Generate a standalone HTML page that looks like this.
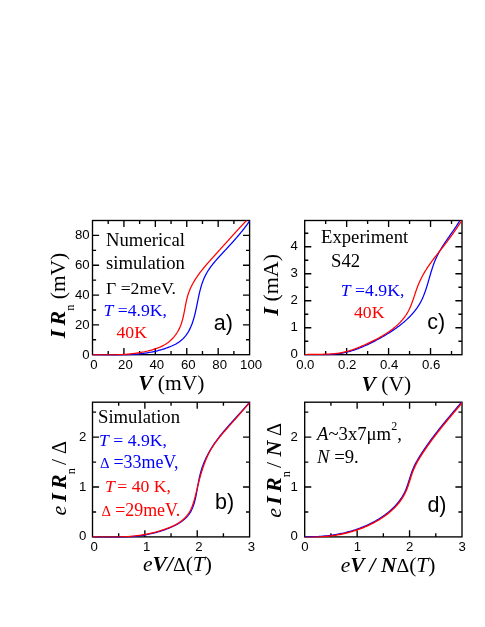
<!DOCTYPE html>
<html><head><meta charset="utf-8"><title>Figure</title>
<style>
html,body{margin:0;padding:0;background:#fff;overflow:hidden;}
svg{display:block;will-change:transform;}
.sans{font-family:"Liberation Sans",sans-serif;}
.serif{font-family:"Liberation Serif",serif;}
</style></head><body>
<svg width="485" height="627" viewBox="0 0 485 627">
<rect width="485" height="627" fill="#fff"/>
<rect x="92.5" y="220.5" width="157.1" height="134.2" fill="none" stroke="#000" stroke-width="1.35"/>
<path d="M123.92,354.7 v-6.6 M123.92,220.5 v6.6 M155.34,354.7 v-6.6 M155.34,220.5 v6.6 M186.76,354.7 v-6.6 M186.76,220.5 v6.6 M218.18,354.7 v-6.6 M218.18,220.5 v6.6 M108.21,354.7 v-3.6 M108.21,220.5 v3.6 M139.63,354.7 v-3.6 M139.63,220.5 v3.6 M171.05,354.7 v-3.6 M171.05,220.5 v3.6 M202.47,354.7 v-3.6 M202.47,220.5 v3.6 M233.89,354.7 v-3.6 M233.89,220.5 v3.6 M92.5,324.88 h6.6 M249.6,324.88 h-6.6 M92.5,295.06 h6.6 M249.6,295.06 h-6.6 M92.5,265.23 h6.6 M249.6,265.23 h-6.6 M92.5,235.41 h6.6 M249.6,235.41 h-6.6 M92.5,339.79 h3.6 M249.6,339.79 h-3.6 M92.5,309.97 h3.6 M249.6,309.97 h-3.6 M92.5,280.14 h3.6 M249.6,280.14 h-3.6 M92.5,250.32 h3.6 M249.6,250.32 h-3.6 " stroke="#000" stroke-width="1.35" fill="none"/>
<rect x="304.7" y="220.5" width="157.3" height="134.2" fill="none" stroke="#000" stroke-width="1.35"/>
<path d="M346.65,354.7 v-6.6 M346.65,220.5 v6.6 M388.59,354.7 v-6.6 M388.59,220.5 v6.6 M430.54,354.7 v-6.6 M430.54,220.5 v6.6 M325.67,354.7 v-3.6 M325.67,220.5 v3.6 M367.62,354.7 v-3.6 M367.62,220.5 v3.6 M409.57,354.7 v-3.6 M409.57,220.5 v3.6 M451.51,354.7 v-3.6 M451.51,220.5 v3.6 M304.7,327.70 h6.6 M462.0,327.70 h-6.6 M304.7,300.70 h6.6 M462.0,300.70 h-6.6 M304.7,273.70 h6.6 M462.0,273.70 h-6.6 M304.7,246.70 h6.6 M462.0,246.70 h-6.6 M304.7,341.20 h3.6 M462.0,341.20 h-3.6 M304.7,314.20 h3.6 M462.0,314.20 h-3.6 M304.7,287.20 h3.6 M462.0,287.20 h-3.6 M304.7,260.20 h3.6 M462.0,260.20 h-3.6 M304.7,233.20 h3.6 M462.0,233.20 h-3.6 " stroke="#000" stroke-width="1.35" fill="none"/>
<rect x="92.5" y="402.2" width="157.1" height="134.7" fill="none" stroke="#000" stroke-width="1.35"/>
<path d="M144.87,536.9 v-6.6 M144.87,402.2 v6.6 M197.23,536.9 v-6.6 M197.23,402.2 v6.6 M118.68,536.9 v-3.6 M118.68,402.2 v3.6 M171.05,536.9 v-3.6 M171.05,402.2 v3.6 M223.42,536.9 v-3.6 M223.42,402.2 v3.6 M92.5,487.01 h6.6 M249.6,487.01 h-6.6 M92.5,437.12 h6.6 M249.6,437.12 h-6.6 M92.5,511.96 h3.6 M249.6,511.96 h-3.6 M92.5,462.07 h3.6 M249.6,462.07 h-3.6 M92.5,412.18 h3.6 M249.6,412.18 h-3.6 " stroke="#000" stroke-width="1.35" fill="none"/>
<rect x="304.7" y="402.2" width="157.3" height="134.7" fill="none" stroke="#000" stroke-width="1.35"/>
<path d="M357.13,536.9 v-6.6 M357.13,402.2 v6.6 M409.57,536.9 v-6.6 M409.57,402.2 v6.6 M330.92,536.9 v-3.6 M330.92,402.2 v3.6 M383.35,536.9 v-3.6 M383.35,402.2 v3.6 M435.78,536.9 v-3.6 M435.78,402.2 v3.6 M304.7,487.01 h6.6 M462.0,487.01 h-6.6 M304.7,437.12 h6.6 M462.0,437.12 h-6.6 M304.7,511.96 h3.6 M462.0,511.96 h-3.6 M304.7,462.07 h3.6 M462.0,462.07 h-3.6 M304.7,412.18 h3.6 M462.0,412.18 h-3.6 " stroke="#000" stroke-width="1.35" fill="none"/>
<clipPath id="ca"><rect x="92.5" y="220.2" width="157.1" height="135.2"/></clipPath><g clip-path="url(#ca)"><path d="M92.49,354.78 L93.69,354.81 L94.88,354.84 L96.07,354.87 L97.26,354.89 L98.44,354.92 L99.62,354.95 L100.80,354.97 L101.98,354.99 L103.15,355.02 L104.32,355.04 L105.49,355.05 L106.66,355.07 L107.83,355.08 L108.99,355.09 L110.15,355.10 L111.32,355.11 L112.47,355.11 L113.63,355.11 L114.79,355.11 L115.94,355.10 L117.10,355.09 L118.25,355.08 L119.40,355.06 L120.55,355.03 L121.70,355.01 L122.85,354.97 L124.00,354.94 L125.15,354.89 L126.30,354.85 L127.45,354.79 L128.59,354.73 L129.74,354.67 L130.89,354.60 L132.04,354.52 L133.18,354.44 L134.33,354.35 L135.48,354.25 L136.63,354.14 L137.78,354.03 L138.93,353.91 L140.08,353.79 L141.23,353.65 L142.38,353.51 L143.54,353.36 L144.69,353.20 L145.85,353.03 L147.00,352.86 L148.16,352.67 L149.32,352.47 L150.47,352.26 L151.63,352.05 L152.79,351.82 L153.94,351.57 L155.10,351.32 L156.25,351.05 L157.40,350.78 L158.56,350.48 L159.71,350.18 L160.86,349.86 L162.01,349.52 L163.15,349.17 L164.30,348.81 L165.44,348.43 L166.58,348.03 L167.72,347.62 L168.85,347.19 L169.98,346.74 L171.11,346.27 L172.22,345.79 L173.32,345.28 L174.40,344.75 L175.47,344.20 L176.51,343.62 L177.52,343.02 L178.50,342.39 L179.45,341.73 L180.36,341.05 L181.23,340.33 L182.08,339.59 L182.88,338.83 L183.66,338.04 L184.41,337.22 L185.12,336.38 L185.81,335.52 L186.47,334.63 L187.10,333.73 L187.70,332.80 L188.28,331.85 L188.83,330.89 L189.36,329.90 L189.87,328.90 L190.35,327.89 L190.82,326.85 L191.26,325.80 L191.68,324.74 L192.09,323.67 L192.48,322.58 L192.85,321.48 L193.21,320.37 L193.55,319.25 L193.88,318.12 L194.20,316.98 L194.50,315.83 L194.80,314.68 L195.08,313.52 L195.36,312.35 L195.62,311.18 L195.88,310.01 L196.14,308.83 L196.39,307.65 L196.63,306.47 L196.87,305.29 L197.11,304.11 L197.35,302.93 L197.58,301.75 L197.82,300.57 L198.06,299.40 L198.30,298.23 L198.54,297.06 L198.79,295.91 L199.04,294.75 L199.30,293.61 L199.57,292.47 L199.84,291.33 L200.12,290.21 L200.41,289.09 L200.72,287.97 L201.03,286.87 L201.36,285.77 L201.70,284.68 L202.05,283.59 L202.42,282.52 L202.80,281.45 L203.21,280.39 L203.63,279.34 L204.07,278.30 L204.53,277.26 L205.01,276.23 L205.51,275.22 L206.03,274.21 L206.58,273.21 L207.15,272.22 L207.75,271.24 L208.36,270.26 L209.00,269.30 L209.66,268.34 L210.33,267.39 L211.03,266.45 L211.73,265.52 L212.46,264.59 L213.19,263.67 L213.94,262.76 L214.70,261.85 L215.47,260.94 L216.25,260.05 L217.03,259.15 L217.82,258.27 L218.62,257.38 L219.42,256.50 L220.22,255.63 L221.03,254.75 L221.83,253.88 L222.63,253.02 L223.43,252.15 L224.23,251.29 L225.03,250.43 L225.82,249.57 L226.62,248.72 L227.41,247.86 L228.20,247.00 L228.99,246.15 L229.77,245.29 L230.55,244.44 L231.33,243.58 L232.11,242.72 L232.88,241.86 L233.65,241.00 L234.42,240.14 L235.19,239.28 L235.95,238.41 L236.70,237.54 L237.46,236.66 L238.21,235.78 L238.96,234.90 L239.70,234.02 L240.44,233.13 L241.17,232.23 L241.90,231.33 L242.63,230.42 L243.35,229.51 L244.07,228.59 L244.78,227.66 L245.49,226.73 L246.19,225.79 L246.89,224.84 L247.58,223.89 L248.27,222.92 L248.95,221.95 L249.63,220.97" stroke="#0000ff" stroke-width="1.25" fill="none" stroke-linejoin="round"/>
<path d="M92.50,354.79 L93.67,354.82 L94.84,354.84 L96.00,354.87 L97.15,354.89 L98.31,354.91 L99.46,354.93 L100.60,354.94 L101.74,354.95 L102.88,354.96 L104.02,354.97 L105.15,354.98 L106.28,354.98 L107.40,354.98 L108.53,354.97 L109.65,354.96 L110.77,354.95 L111.89,354.93 L113.01,354.91 L114.13,354.88 L115.25,354.85 L116.36,354.81 L117.48,354.77 L118.59,354.73 L119.71,354.68 L120.83,354.62 L121.95,354.56 L123.06,354.49 L124.18,354.41 L125.30,354.33 L126.43,354.25 L127.55,354.15 L128.68,354.05 L129.80,353.94 L130.94,353.83 L132.07,353.71 L133.20,353.58 L134.34,353.44 L135.48,353.29 L136.62,353.14 L137.75,352.97 L138.89,352.79 L140.03,352.61 L141.17,352.41 L142.30,352.21 L143.44,351.99 L144.57,351.76 L145.70,351.51 L146.83,351.26 L147.95,350.99 L149.07,350.71 L150.19,350.41 L151.30,350.10 L152.41,349.78 L153.51,349.44 L154.61,349.09 L155.70,348.72 L156.79,348.33 L157.87,347.93 L158.94,347.50 L160.00,347.06 L161.04,346.60 L162.07,346.11 L163.08,345.60 L164.08,345.07 L165.06,344.51 L166.01,343.92 L166.94,343.30 L167.85,342.65 L168.73,341.98 L169.59,341.28 L170.42,340.55 L171.24,339.80 L172.02,339.03 L172.79,338.23 L173.52,337.40 L174.24,336.56 L174.93,335.69 L175.59,334.81 L176.23,333.90 L176.85,332.98 L177.43,332.03 L178.00,331.07 L178.54,330.10 L179.05,329.10 L179.54,328.10 L180.00,327.07 L180.44,326.04 L180.85,324.99 L181.23,323.93 L181.59,322.86 L181.93,321.78 L182.25,320.69 L182.55,319.59 L182.84,318.48 L183.11,317.37 L183.37,316.25 L183.61,315.12 L183.85,313.99 L184.08,312.85 L184.30,311.72 L184.51,310.58 L184.73,309.44 L184.94,308.30 L185.15,307.15 L185.36,306.01 L185.58,304.87 L185.80,303.74 L186.03,302.61 L186.27,301.48 L186.52,300.35 L186.78,299.24 L187.06,298.13 L187.35,297.02 L187.66,295.93 L187.98,294.84 L188.33,293.77 L188.70,292.70 L189.09,291.64 L189.49,290.60 L189.92,289.56 L190.37,288.53 L190.83,287.51 L191.31,286.50 L191.81,285.50 L192.33,284.50 L192.86,283.52 L193.40,282.54 L193.97,281.57 L194.54,280.61 L195.13,279.65 L195.74,278.70 L196.35,277.76 L196.98,276.82 L197.62,275.89 L198.27,274.97 L198.94,274.05 L199.61,273.14 L200.29,272.23 L200.99,271.33 L201.69,270.43 L202.40,269.54 L203.11,268.65 L203.84,267.77 L204.57,266.89 L205.30,266.01 L206.05,265.14 L206.79,264.27 L207.54,263.41 L208.30,262.54 L209.06,261.68 L209.82,260.83 L210.58,259.97 L211.35,259.12 L212.12,258.27 L212.89,257.42 L213.65,256.57 L214.42,255.72 L215.19,254.87 L215.96,254.03 L216.72,253.18 L217.48,252.34 L218.25,251.49 L219.01,250.65 L219.77,249.81 L220.52,248.96 L221.28,248.12 L222.04,247.28 L222.79,246.44 L223.55,245.60 L224.30,244.76 L225.06,243.92 L225.81,243.08 L226.57,242.24 L227.32,241.40 L228.08,240.56 L228.83,239.72 L229.59,238.89 L230.34,238.05 L231.10,237.21 L231.86,236.38 L232.61,235.54 L233.37,234.70 L234.13,233.87 L234.90,233.03 L235.66,232.19 L236.42,231.36 L237.19,230.52 L237.96,229.69 L238.73,228.85 L239.50,228.02 L240.27,227.18 L241.05,226.35 L241.83,225.51 L242.61,224.68 L243.39,223.85 L244.18,223.01 L244.97,222.18 L245.76,221.34 L246.56,220.51" stroke="#ff0000" stroke-width="1.25" fill="none" stroke-linejoin="round"/>
</g><clipPath id="cc"><rect x="304.7" y="220.2" width="157.3" height="135.2"/></clipPath><g clip-path="url(#cc)"><path d="M304.68,354.72 L305.80,354.71 L306.91,354.70 L308.03,354.70 L309.16,354.70 L310.29,354.70 L311.42,354.71 L312.55,354.72 L313.69,354.72 L314.82,354.73 L315.96,354.74 L317.11,354.74 L318.25,354.74 L319.39,354.74 L320.53,354.74 L321.68,354.73 L322.82,354.72 L323.97,354.70 L325.11,354.67 L326.26,354.64 L327.40,354.60 L328.54,354.55 L329.68,354.50 L330.82,354.43 L331.95,354.36 L333.09,354.27 L334.22,354.17 L335.35,354.06 L336.47,353.94 L337.59,353.81 L338.71,353.66 L339.83,353.49 L340.94,353.31 L342.04,353.12 L343.14,352.91 L344.24,352.68 L345.33,352.44 L346.42,352.19 L347.51,351.92 L348.59,351.64 L349.67,351.35 L350.74,351.04 L351.81,350.72 L352.88,350.39 L353.95,350.04 L355.01,349.69 L356.06,349.32 L357.12,348.94 L358.17,348.55 L359.22,348.16 L360.26,347.75 L361.30,347.33 L362.34,346.90 L363.38,346.46 L364.41,346.01 L365.44,345.55 L366.47,345.09 L367.49,344.62 L368.51,344.14 L369.53,343.65 L370.55,343.15 L371.56,342.65 L372.58,342.14 L373.59,341.62 L374.59,341.10 L375.60,340.58 L376.60,340.04 L377.60,339.50 L378.60,338.96 L379.60,338.41 L380.60,337.86 L381.59,337.30 L382.58,336.74 L383.57,336.17 L384.56,335.60 L385.54,335.02 L386.52,334.43 L387.49,333.84 L388.46,333.24 L389.43,332.64 L390.39,332.02 L391.35,331.40 L392.30,330.78 L393.24,330.14 L394.19,329.50 L395.12,328.85 L396.05,328.20 L396.97,327.53 L397.89,326.86 L398.80,326.18 L399.71,325.49 L400.60,324.79 L401.49,324.08 L402.37,323.36 L403.25,322.63 L404.11,321.90 L404.97,321.15 L405.82,320.39 L406.65,319.63 L407.48,318.85 L408.30,318.07 L409.10,317.27 L409.90,316.47 L410.68,315.65 L411.44,314.83 L412.20,313.99 L412.94,313.15 L413.67,312.29 L414.38,311.42 L415.07,310.55 L415.75,309.66 L416.42,308.76 L417.07,307.86 L417.70,306.94 L418.31,306.01 L418.90,305.07 L419.48,304.12 L420.03,303.16 L420.57,302.18 L421.09,301.20 L421.59,300.21 L422.07,299.21 L422.53,298.19 L422.98,297.17 L423.42,296.15 L423.84,295.11 L424.25,294.07 L424.64,293.02 L425.03,291.96 L425.40,290.90 L425.77,289.83 L426.12,288.76 L426.47,287.68 L426.81,286.60 L427.15,285.51 L427.48,284.42 L427.80,283.33 L428.12,282.24 L428.44,281.14 L428.75,280.05 L429.07,278.95 L429.38,277.85 L429.70,276.75 L430.01,275.65 L430.33,274.56 L430.65,273.46 L430.98,272.37 L431.31,271.27 L431.65,270.19 L431.99,269.10 L432.34,268.02 L432.69,266.94 L433.06,265.86 L433.44,264.80 L433.82,263.73 L434.22,262.67 L434.63,261.62 L435.06,260.58 L435.49,259.54 L435.95,258.51 L436.41,257.49 L436.90,256.47 L437.39,255.46 L437.90,254.46 L438.43,253.47 L438.96,252.48 L439.51,251.50 L440.07,250.52 L440.63,249.55 L441.21,248.59 L441.80,247.62 L442.39,246.67 L443.00,245.71 L443.61,244.76 L444.22,243.82 L444.85,242.87 L445.48,241.93 L446.11,240.99 L446.75,240.06 L447.39,239.12 L448.03,238.19 L448.68,237.26 L449.33,236.33 L449.98,235.40 L450.62,234.47 L451.27,233.53 L451.92,232.60 L452.57,231.67 L453.22,230.74 L453.86,229.80 L454.50,228.86 L455.14,227.92 L455.77,226.98 L456.40,226.04 L457.02,225.09 L457.63,224.14 L458.24,223.19 L458.84,222.23 L459.43,221.26 L460.02,220.30" stroke="#0000ff" stroke-width="1.25" fill="none" stroke-linejoin="round"/>
<path d="M304.71,354.60 L305.79,354.54 L306.88,354.50 L307.98,354.45 L309.08,354.42 L310.19,354.39 L311.31,354.37 L312.43,354.35 L313.56,354.34 L314.69,354.33 L315.82,354.32 L316.96,354.31 L318.10,354.30 L319.25,354.29 L320.39,354.28 L321.54,354.27 L322.69,354.25 L323.84,354.23 L324.99,354.21 L326.14,354.18 L327.28,354.14 L328.43,354.09 L329.57,354.04 L330.71,353.97 L331.85,353.90 L332.99,353.81 L334.12,353.71 L335.25,353.60 L336.37,353.48 L337.48,353.34 L338.59,353.19 L339.70,353.01 L340.79,352.83 L341.88,352.62 L342.97,352.40 L344.05,352.16 L345.12,351.91 L346.18,351.64 L347.24,351.35 L348.30,351.05 L349.35,350.74 L350.40,350.42 L351.44,350.08 L352.49,349.73 L353.52,349.36 L354.56,348.99 L355.59,348.61 L356.63,348.21 L357.66,347.81 L358.69,347.39 L359.71,346.97 L360.74,346.54 L361.77,346.10 L362.80,345.66 L363.83,345.21 L364.86,344.75 L365.89,344.28 L366.93,343.82 L367.96,343.34 L368.99,342.86 L370.03,342.37 L371.06,341.88 L372.10,341.38 L373.13,340.87 L374.16,340.36 L375.18,339.84 L376.21,339.31 L377.23,338.78 L378.24,338.23 L379.25,337.68 L380.26,337.12 L381.26,336.55 L382.26,335.98 L383.25,335.39 L384.23,334.80 L385.20,334.19 L386.17,333.58 L387.12,332.96 L388.07,332.32 L389.01,331.68 L389.94,331.03 L390.86,330.36 L391.77,329.69 L392.67,329.01 L393.55,328.31 L394.42,327.60 L395.28,326.88 L396.13,326.15 L396.96,325.41 L397.78,324.66 L398.58,323.89 L399.37,323.11 L400.14,322.32 L400.90,321.52 L401.64,320.70 L402.36,319.87 L403.06,319.02 L403.75,318.17 L404.42,317.29 L405.06,316.41 L405.69,315.51 L406.30,314.59 L406.89,313.66 L407.45,312.72 L408.00,311.76 L408.52,310.79 L409.02,309.80 L409.50,308.79 L409.97,307.78 L410.42,306.75 L410.85,305.72 L411.27,304.67 L411.68,303.62 L412.07,302.56 L412.46,301.49 L412.84,300.41 L413.21,299.34 L413.58,298.25 L413.94,297.17 L414.30,296.08 L414.66,294.99 L415.02,293.91 L415.38,292.82 L415.74,291.74 L416.11,290.66 L416.48,289.58 L416.87,288.51 L417.26,287.44 L417.66,286.39 L418.07,285.33 L418.49,284.29 L418.92,283.26 L419.37,282.23 L419.83,281.22 L420.30,280.21 L420.79,279.20 L421.28,278.21 L421.78,277.22 L422.30,276.24 L422.83,275.26 L423.37,274.29 L423.92,273.33 L424.48,272.37 L425.05,271.41 L425.63,270.46 L426.22,269.52 L426.82,268.58 L427.43,267.65 L428.05,266.72 L428.68,265.79 L429.31,264.87 L429.96,263.95 L430.61,263.03 L431.26,262.12 L431.93,261.21 L432.60,260.31 L433.27,259.40 L433.95,258.50 L434.63,257.60 L435.32,256.70 L436.01,255.81 L436.71,254.91 L437.40,254.02 L438.10,253.12 L438.80,252.23 L439.50,251.34 L440.20,250.45 L440.90,249.56 L441.60,248.67 L442.30,247.78 L443.00,246.89 L443.70,246.00 L444.39,245.11 L445.09,244.21 L445.77,243.32 L446.46,242.42 L447.14,241.53 L447.82,240.63 L448.49,239.73 L449.16,238.83 L449.82,237.92 L450.48,237.01 L451.13,236.11 L451.79,235.20 L452.44,234.28 L453.08,233.37 L453.73,232.46 L454.37,231.54 L455.01,230.62 L455.65,229.70 L456.29,228.78 L456.92,227.85 L457.56,226.93 L458.19,226.00 L458.82,225.07 L459.45,224.14 L460.09,223.21 L460.72,222.27 L461.35,221.33 L461.99,220.40" stroke="#ff0000" stroke-width="1.25" fill="none" stroke-linejoin="round"/>
</g><clipPath id="cb"><rect x="92.5" y="401.9" width="157.1" height="135.7"/></clipPath><g clip-path="url(#cb)"><path d="M93.05,537.23 L94.21,537.25 L95.38,537.26 L96.55,537.28 L97.72,537.30 L98.89,537.32 L100.06,537.33 L101.23,537.35 L102.40,537.37 L103.57,537.38 L104.73,537.39 L105.90,537.41 L107.07,537.42 L108.24,537.42 L109.40,537.43 L110.57,537.43 L111.74,537.43 L112.90,537.43 L114.07,537.42 L115.23,537.41 L116.40,537.39 L117.56,537.37 L118.72,537.35 L119.89,537.32 L121.05,537.29 L122.21,537.25 L123.37,537.20 L124.53,537.15 L125.69,537.09 L126.85,537.03 L128.01,536.96 L129.17,536.88 L130.33,536.79 L131.48,536.70 L132.64,536.60 L133.79,536.49 L134.95,536.38 L136.10,536.25 L137.25,536.12 L138.41,535.97 L139.56,535.82 L140.71,535.66 L141.85,535.48 L143.00,535.30 L144.15,535.11 L145.29,534.90 L146.44,534.69 L147.58,534.47 L148.72,534.23 L149.86,533.99 L151.00,533.73 L152.14,533.47 L153.27,533.19 L154.41,532.91 L155.54,532.61 L156.67,532.30 L157.80,531.98 L158.92,531.65 L160.05,531.31 L161.17,530.95 L162.29,530.59 L163.41,530.22 L164.52,529.83 L165.64,529.43 L166.75,529.02 L167.85,528.60 L168.96,528.16 L170.05,527.72 L171.14,527.25 L172.23,526.77 L173.30,526.28 L174.36,525.77 L175.41,525.24 L176.44,524.70 L177.46,524.13 L178.46,523.55 L179.44,522.94 L180.41,522.31 L181.35,521.67 L182.28,520.99 L183.17,520.30 L184.05,519.58 L184.90,518.83 L185.72,518.06 L186.51,517.26 L187.27,516.43 L188.00,515.57 L188.70,514.69 L189.36,513.77 L189.99,512.83 L190.59,511.85 L191.14,510.85 L191.67,509.82 L192.16,508.76 L192.62,507.69 L193.06,506.60 L193.46,505.49 L193.84,504.37 L194.19,503.24 L194.52,502.09 L194.83,500.94 L195.12,499.79 L195.39,498.62 L195.64,497.46 L195.89,496.29 L196.12,495.12 L196.34,493.95 L196.56,492.77 L196.77,491.61 L196.97,490.44 L197.18,489.28 L197.38,488.12 L197.58,486.96 L197.79,485.81 L197.99,484.66 L198.20,483.51 L198.41,482.37 L198.63,481.23 L198.85,480.09 L199.09,478.96 L199.33,477.83 L199.58,476.70 L199.84,475.58 L200.11,474.45 L200.39,473.34 L200.69,472.22 L201.01,471.11 L201.34,470.00 L201.68,468.90 L202.05,467.80 L202.43,466.71 L202.82,465.61 L203.23,464.53 L203.66,463.44 L204.10,462.36 L204.55,461.29 L205.02,460.22 L205.50,459.16 L206.00,458.10 L206.51,457.05 L207.03,456.00 L207.56,454.96 L208.11,453.92 L208.66,452.90 L209.23,451.87 L209.81,450.86 L210.40,449.85 L211.01,448.84 L211.62,447.85 L212.24,446.86 L212.87,445.88 L213.51,444.90 L214.16,443.93 L214.82,442.97 L215.49,442.02 L216.17,441.07 L216.85,440.13 L217.54,439.19 L218.24,438.26 L218.95,437.33 L219.66,436.41 L220.38,435.50 L221.10,434.58 L221.83,433.68 L222.57,432.77 L223.31,431.88 L224.06,430.98 L224.81,430.09 L225.57,429.20 L226.33,428.32 L227.09,427.43 L227.86,426.55 L228.63,425.68 L229.40,424.80 L230.18,423.93 L230.95,423.06 L231.73,422.19 L232.52,421.32 L233.30,420.46 L234.08,419.59 L234.87,418.73 L235.65,417.86 L236.44,417.00 L237.23,416.14 L238.01,415.27 L238.80,414.41 L239.58,413.55 L240.36,412.68 L241.14,411.81 L241.92,410.95 L242.70,410.08 L243.48,409.21 L244.25,408.34 L245.02,407.46 L245.78,406.59 L246.55,405.71 L247.30,404.83 L248.06,403.94 L248.81,403.06 L249.55,402.17" stroke="#0000ff" stroke-width="1.25" fill="none" stroke-linejoin="round"/>
<path d="M92.49,536.87 L93.67,536.90 L94.85,536.93 L96.03,536.95 L97.20,536.97 L98.38,537.00 L99.55,537.02 L100.72,537.04 L101.89,537.06 L103.06,537.08 L104.23,537.09 L105.39,537.10 L106.56,537.11 L107.72,537.12 L108.88,537.13 L110.05,537.13 L111.21,537.12 L112.37,537.12 L113.53,537.11 L114.68,537.09 L115.84,537.07 L117.00,537.05 L118.15,537.02 L119.31,536.99 L120.46,536.95 L121.61,536.91 L122.77,536.86 L123.92,536.80 L125.07,536.74 L126.22,536.67 L127.37,536.60 L128.52,536.52 L129.67,536.43 L130.82,536.33 L131.97,536.23 L133.11,536.12 L134.26,536.00 L135.41,535.87 L136.56,535.74 L137.70,535.59 L138.85,535.44 L140.00,535.28 L141.14,535.11 L142.29,534.93 L143.44,534.74 L144.58,534.54 L145.73,534.33 L146.87,534.11 L148.01,533.88 L149.16,533.64 L150.30,533.39 L151.44,533.13 L152.58,532.86 L153.72,532.58 L154.86,532.29 L155.99,531.99 L157.13,531.68 L158.26,531.36 L159.39,531.02 L160.52,530.68 L161.65,530.32 L162.78,529.95 L163.90,529.57 L165.02,529.18 L166.14,528.78 L167.26,528.37 L168.37,527.94 L169.48,527.50 L170.57,527.04 L171.66,526.57 L172.74,526.08 L173.81,525.58 L174.86,525.05 L175.89,524.51 L176.91,523.94 L177.91,523.36 L178.89,522.75 L179.85,522.11 L180.78,521.46 L181.69,520.78 L182.57,520.07 L183.43,519.33 L184.25,518.57 L185.04,517.78 L185.80,516.96 L186.53,516.12 L187.23,515.25 L187.90,514.35 L188.53,513.43 L189.14,512.49 L189.71,511.52 L190.25,510.53 L190.76,509.53 L191.24,508.50 L191.70,507.45 L192.14,506.39 L192.55,505.31 L192.94,504.22 L193.31,503.12 L193.67,502.00 L194.01,500.88 L194.34,499.75 L194.66,498.61 L194.96,497.46 L195.26,496.31 L195.55,495.15 L195.84,493.99 L196.12,492.84 L196.40,491.68 L196.69,490.52 L196.97,489.37 L197.25,488.22 L197.53,487.06 L197.81,485.91 L198.10,484.77 L198.39,483.62 L198.68,482.48 L198.97,481.34 L199.27,480.20 L199.57,479.07 L199.87,477.93 L200.18,476.80 L200.50,475.68 L200.82,474.56 L201.14,473.44 L201.47,472.32 L201.81,471.21 L202.16,470.10 L202.51,469.00 L202.87,467.90 L203.24,466.81 L203.62,465.72 L204.01,464.63 L204.40,463.55 L204.81,462.48 L205.23,461.41 L205.65,460.34 L206.09,459.28 L206.55,458.23 L207.01,457.18 L207.48,456.14 L207.97,455.10 L208.47,454.07 L208.99,453.05 L209.52,452.03 L210.06,451.02 L210.62,450.02 L211.20,449.02 L211.79,448.03 L212.40,447.05 L213.02,446.08 L213.66,445.11 L214.31,444.15 L214.98,443.20 L215.66,442.25 L216.35,441.31 L217.06,440.37 L217.77,439.44 L218.50,438.51 L219.23,437.59 L219.97,436.68 L220.72,435.77 L221.48,434.86 L222.24,433.96 L223.01,433.06 L223.78,432.16 L224.56,431.27 L225.34,430.38 L226.12,429.49 L226.90,428.61 L227.68,427.72 L228.46,426.84 L229.24,425.96 L230.02,425.09 L230.79,424.21 L231.56,423.33 L232.33,422.46 L233.10,421.59 L233.87,420.71 L234.64,419.84 L235.40,418.97 L236.16,418.10 L236.92,417.23 L237.69,416.36 L238.45,415.49 L239.21,414.63 L239.97,413.76 L240.73,412.89 L241.49,412.02 L242.25,411.16 L243.02,410.29 L243.78,409.43 L244.55,408.56 L245.31,407.69 L246.08,406.83 L246.85,405.96 L247.62,405.09 L248.40,404.22 L249.17,403.36 L249.95,402.49" stroke="#ff0000" stroke-width="1.25" fill="none" stroke-linejoin="round"/>
</g><clipPath id="cd"><rect x="304.7" y="401.9" width="157.3" height="135.7"/></clipPath><g clip-path="url(#cd)"><path d="M304.58,536.89 L305.71,536.90 L306.85,536.90 L307.98,536.89 L309.11,536.88 L310.24,536.86 L311.37,536.84 L312.50,536.80 L313.63,536.77 L314.75,536.72 L315.88,536.67 L317.00,536.62 L318.13,536.55 L319.25,536.48 L320.37,536.40 L321.49,536.32 L322.61,536.23 L323.73,536.13 L324.85,536.02 L325.96,535.91 L327.08,535.79 L328.19,535.66 L329.30,535.52 L330.41,535.38 L331.52,535.23 L332.62,535.07 L333.73,534.90 L334.83,534.72 L335.93,534.54 L337.03,534.35 L338.13,534.15 L339.22,533.94 L340.32,533.72 L341.41,533.50 L342.49,533.26 L343.58,533.02 L344.67,532.77 L345.75,532.51 L346.83,532.24 L347.91,531.96 L348.98,531.67 L350.05,531.38 L351.12,531.07 L352.19,530.75 L353.26,530.43 L354.32,530.09 L355.38,529.75 L356.43,529.40 L357.49,529.03 L358.54,528.66 L359.59,528.28 L360.63,527.88 L361.68,527.48 L362.72,527.06 L363.75,526.64 L364.79,526.20 L365.82,525.76 L366.84,525.30 L367.87,524.83 L368.89,524.36 L369.90,523.87 L370.92,523.37 L371.93,522.86 L372.93,522.34 L373.93,521.81 L374.93,521.26 L375.92,520.71 L376.90,520.14 L377.88,519.56 L378.85,518.98 L379.82,518.38 L380.77,517.77 L381.72,517.14 L382.66,516.51 L383.59,515.86 L384.51,515.21 L385.42,514.54 L386.32,513.86 L387.21,513.17 L388.09,512.46 L388.96,511.75 L389.82,511.02 L390.66,510.28 L391.49,509.53 L392.31,508.77 L393.11,508.00 L393.90,507.21 L394.68,506.41 L395.44,505.61 L396.18,504.78 L396.91,503.95 L397.63,503.10 L398.33,502.24 L399.01,501.37 L399.67,500.49 L400.31,499.60 L400.94,498.69 L401.55,497.77 L402.14,496.84 L402.71,495.89 L403.25,494.93 L403.78,493.96 L404.29,492.98 L404.78,491.99 L405.24,490.98 L405.69,489.96 L406.11,488.93 L406.52,487.89 L406.92,486.84 L407.30,485.78 L407.67,484.72 L408.02,483.65 L408.38,482.57 L408.72,481.50 L409.06,480.42 L409.41,479.33 L409.75,478.25 L410.09,477.17 L410.43,476.09 L410.78,475.02 L411.14,473.95 L411.51,472.88 L411.89,471.82 L412.28,470.77 L412.69,469.72 L413.12,468.69 L413.56,467.66 L414.02,466.64 L414.49,465.64 L414.98,464.64 L415.48,463.65 L416.00,462.66 L416.53,461.69 L417.07,460.71 L417.62,459.75 L418.18,458.79 L418.76,457.84 L419.33,456.89 L419.92,455.94 L420.52,455.00 L421.12,454.06 L421.72,453.12 L422.33,452.19 L422.95,451.26 L423.57,450.33 L424.19,449.40 L424.82,448.48 L425.46,447.55 L426.09,446.63 L426.74,445.71 L427.38,444.80 L428.03,443.88 L428.68,442.97 L429.34,442.06 L430.00,441.15 L430.67,440.25 L431.33,439.34 L432.00,438.44 L432.68,437.54 L433.36,436.64 L434.04,435.75 L434.72,434.85 L435.40,433.96 L436.09,433.07 L436.78,432.18 L437.48,431.29 L438.17,430.41 L438.87,429.52 L439.57,428.64 L440.27,427.76 L440.98,426.88 L441.68,426.00 L442.39,425.13 L443.10,424.25 L443.81,423.38 L444.52,422.51 L445.24,421.64 L445.95,420.77 L446.67,419.90 L447.39,419.03 L448.10,418.17 L448.82,417.30 L449.54,416.44 L450.26,415.58 L450.98,414.72 L451.71,413.86 L452.43,413.01 L453.15,412.15 L453.87,411.29 L454.59,410.44 L455.32,409.59 L456.04,408.74 L456.76,407.88 L457.48,407.03 L458.20,406.19 L458.92,405.34 L459.64,404.49 L460.36,403.64 L461.08,402.80 L461.80,401.95" stroke="#0000ff" stroke-width="1.3" fill="none" stroke-linejoin="round"/>
<path d="M305.18,537.39 L306.31,537.40 L307.45,537.40 L308.58,537.39 L309.71,537.38 L310.84,537.36 L311.97,537.34 L313.10,537.30 L314.23,537.27 L315.35,537.22 L316.48,537.17 L317.60,537.12 L318.73,537.05 L319.85,536.98 L320.97,536.90 L322.09,536.82 L323.21,536.73 L324.33,536.63 L325.45,536.52 L326.56,536.41 L327.68,536.29 L328.79,536.16 L329.90,536.02 L331.01,535.88 L332.12,535.73 L333.22,535.57 L334.33,535.40 L335.43,535.22 L336.53,535.04 L337.63,534.85 L338.73,534.65 L339.82,534.44 L340.92,534.22 L342.01,534.00 L343.09,533.76 L344.18,533.52 L345.27,533.27 L346.35,533.01 L347.43,532.74 L348.51,532.46 L349.58,532.17 L350.65,531.88 L351.72,531.57 L352.79,531.25 L353.86,530.93 L354.92,530.59 L355.98,530.25 L357.03,529.90 L358.09,529.53 L359.14,529.16 L360.19,528.78 L361.23,528.38 L362.28,527.98 L363.32,527.56 L364.35,527.14 L365.39,526.70 L366.42,526.26 L367.44,525.80 L368.47,525.33 L369.49,524.86 L370.50,524.37 L371.52,523.87 L372.53,523.36 L373.53,522.84 L374.53,522.31 L375.53,521.76 L376.52,521.21 L377.50,520.64 L378.48,520.06 L379.45,519.48 L380.42,518.88 L381.37,518.27 L382.32,517.64 L383.26,517.01 L384.19,516.36 L385.11,515.71 L386.02,515.04 L386.92,514.36 L387.81,513.67 L388.69,512.96 L389.56,512.25 L390.42,511.52 L391.26,510.78 L392.09,510.03 L392.91,509.27 L393.71,508.50 L394.50,507.71 L395.28,506.91 L396.04,506.11 L396.78,505.28 L397.51,504.45 L398.23,503.60 L398.93,502.74 L399.61,501.87 L400.27,500.99 L400.91,500.10 L401.54,499.19 L402.15,498.27 L402.74,497.34 L403.31,496.39 L403.85,495.43 L404.38,494.46 L404.89,493.48 L405.38,492.49 L405.84,491.48 L406.29,490.46 L406.71,489.43 L407.12,488.39 L407.52,487.34 L407.90,486.28 L408.27,485.22 L408.62,484.15 L408.98,483.07 L409.32,482.00 L409.66,480.92 L410.01,479.83 L410.35,478.75 L410.69,477.67 L411.03,476.59 L411.38,475.52 L411.74,474.45 L412.11,473.38 L412.49,472.32 L412.88,471.27 L413.29,470.22 L413.72,469.19 L414.16,468.16 L414.62,467.14 L415.09,466.14 L415.58,465.14 L416.08,464.15 L416.60,463.16 L417.13,462.19 L417.67,461.21 L418.22,460.25 L418.78,459.29 L419.36,458.34 L419.93,457.39 L420.52,456.44 L421.12,455.50 L421.72,454.56 L422.32,453.62 L422.93,452.69 L423.55,451.76 L424.17,450.83 L424.79,449.90 L425.42,448.98 L426.06,448.05 L426.69,447.13 L427.34,446.21 L427.98,445.30 L428.63,444.38 L429.28,443.47 L429.94,442.56 L430.60,441.65 L431.27,440.75 L431.93,439.84 L432.60,438.94 L433.28,438.04 L433.96,437.14 L434.64,436.25 L435.32,435.35 L436.00,434.46 L436.69,433.57 L437.38,432.68 L438.08,431.79 L438.77,430.91 L439.47,430.02 L440.17,429.14 L440.87,428.26 L441.58,427.38 L442.28,426.50 L442.99,425.63 L443.70,424.75 L444.41,423.88 L445.12,423.01 L445.84,422.14 L446.55,421.27 L447.27,420.40 L447.99,419.53 L448.70,418.67 L449.42,417.80 L450.14,416.94 L450.86,416.08 L451.58,415.22 L452.31,414.36 L453.03,413.51 L453.75,412.65 L454.47,411.79 L455.19,410.94 L455.92,410.09 L456.64,409.24 L457.36,408.38 L458.08,407.53 L458.80,406.69 L459.52,405.84 L460.24,404.99 L460.96,404.14 L461.68,403.30 L462.40,402.45" stroke="#ff0000" stroke-width="1.4" fill="none" stroke-linejoin="round"/>
</g><text x="94.00" y="369.20" font-size="13.2" text-anchor="middle" class="sans" fill="#000" >0</text>
<text x="125.42" y="369.20" font-size="13.2" text-anchor="middle" class="sans" fill="#000" >20</text>
<text x="156.84" y="369.20" font-size="13.2" text-anchor="middle" class="sans" fill="#000" >40</text>
<text x="188.26" y="369.20" font-size="13.2" text-anchor="middle" class="sans" fill="#000" >60</text>
<text x="219.68" y="369.20" font-size="13.2" text-anchor="middle" class="sans" fill="#000" >80</text>
<text x="251.10" y="369.20" font-size="13.2" text-anchor="middle" class="sans" fill="#000" >100</text>
<text x="89.70" y="358.70" font-size="13.2" text-anchor="end" class="sans" fill="#000" >0</text>
<text x="89.70" y="328.88" font-size="13.2" text-anchor="end" class="sans" fill="#000" >20</text>
<text x="89.70" y="299.06" font-size="13.2" text-anchor="end" class="sans" fill="#000" >40</text>
<text x="89.70" y="269.23" font-size="13.2" text-anchor="end" class="sans" fill="#000" >60</text>
<text x="89.70" y="239.41" font-size="13.2" text-anchor="end" class="sans" fill="#000" >80</text>
<text x="305.30" y="369.30" font-size="13.2" text-anchor="middle" class="sans" fill="#000" >0.0</text>
<text x="347.25" y="369.30" font-size="13.2" text-anchor="middle" class="sans" fill="#000" >0.2</text>
<text x="389.19" y="369.30" font-size="13.2" text-anchor="middle" class="sans" fill="#000" >0.4</text>
<text x="431.14" y="369.30" font-size="13.2" text-anchor="middle" class="sans" fill="#000" >0.6</text>
<text x="297.80" y="358.10" font-size="13.2" text-anchor="end" class="sans" fill="#000" >0</text>
<text x="297.80" y="331.10" font-size="13.2" text-anchor="end" class="sans" fill="#000" >1</text>
<text x="297.80" y="304.10" font-size="13.2" text-anchor="end" class="sans" fill="#000" >2</text>
<text x="297.80" y="277.10" font-size="13.2" text-anchor="end" class="sans" fill="#000" >3</text>
<text x="297.80" y="250.10" font-size="13.2" text-anchor="end" class="sans" fill="#000" >4</text>
<text x="94.20" y="551.00" font-size="13.2" text-anchor="middle" class="sans" fill="#000" >0</text>
<text x="304.90" y="551.40" font-size="13.2" text-anchor="middle" class="sans" fill="#000" >0</text>
<text x="146.57" y="551.00" font-size="13.2" text-anchor="middle" class="sans" fill="#000" >1</text>
<text x="357.33" y="551.40" font-size="13.2" text-anchor="middle" class="sans" fill="#000" >1</text>
<text x="198.93" y="551.00" font-size="13.2" text-anchor="middle" class="sans" fill="#000" >2</text>
<text x="409.77" y="551.40" font-size="13.2" text-anchor="middle" class="sans" fill="#000" >2</text>
<text x="251.30" y="551.00" font-size="13.2" text-anchor="middle" class="sans" fill="#000" >3</text>
<text x="462.20" y="551.40" font-size="13.2" text-anchor="middle" class="sans" fill="#000" >3</text>
<text x="86.30" y="540.40" font-size="13.2" text-anchor="end" class="sans" fill="#000" >0</text>
<text x="297.80" y="540.40" font-size="13.2" text-anchor="end" class="sans" fill="#000" >0</text>
<text x="86.30" y="490.51" font-size="13.2" text-anchor="end" class="sans" fill="#000" >1</text>
<text x="297.80" y="490.51" font-size="13.2" text-anchor="end" class="sans" fill="#000" >1</text>
<text x="86.30" y="440.62" font-size="13.2" text-anchor="end" class="sans" fill="#000" >2</text>
<text x="297.80" y="440.62" font-size="13.2" text-anchor="end" class="sans" fill="#000" >2</text>
<text x="213.80" y="330.00" font-size="21.5" text-anchor="start" class="sans" fill="#000" >a)</text>
<text x="427.30" y="328.60" font-size="21.5" text-anchor="start" class="sans" fill="#000" >c)</text>
<text x="215.00" y="508.70" font-size="21.5" text-anchor="start" class="sans" fill="#000" >b)</text>
<text x="427.40" y="511.70" font-size="21.5" text-anchor="start" class="sans" fill="#000" >d)</text>
<text x="106.00" y="246.00" font-size="18.7" text-anchor="start" class="serif" fill="#000" >Numerical</text>
<text x="106.00" y="269.20" font-size="18.7" text-anchor="start" class="serif" fill="#000" >simulation</text>
<text x="106.00" y="293.70" font-size="17.7" text-anchor="start" class="serif" fill="#000" >Γ =2meV.</text>
<text x="103.50" y="315.80" font-size="17.7" text-anchor="start" class="serif" fill="#0000ff" ><tspan font-style='italic'>T</tspan> =4.9K,</text>
<text x="116.50" y="337.60" font-size="17.7" text-anchor="start" class="serif" fill="#ff0000" >40K</text>
<text x="321.00" y="242.50" font-size="18.7" text-anchor="start" class="serif" fill="#000" >Experiment</text>
<text x="331.00" y="266.50" font-size="18.7" text-anchor="start" class="serif" fill="#000" >S42</text>
<text x="340.80" y="296.00" font-size="17.7" text-anchor="start" class="serif" fill="#0000ff" ><tspan font-style='italic'>T</tspan> =4.9K,</text>
<text x="354.00" y="318.00" font-size="17.7" text-anchor="start" class="serif" fill="#ff0000" >40K</text>
<text x="98.00" y="423.00" font-size="18.7" text-anchor="start" class="serif" fill="#000" >Simulation</text>
<text x="99.00" y="446.20" font-size="17.7" text-anchor="start" class="serif" fill="#0000ff" ><tspan font-style='italic'>T</tspan> = 4.9K,</text>
<text x="100.00" y="468.10" font-size="17.9" text-anchor="start" class="serif" fill="#0000ff" ><tspan font-size='14.8'>Δ</tspan><tspan dx='-0.5'> =33meV,</tspan></text>
<text x="105.00" y="491.70" font-size="17.7" text-anchor="start" class="serif" fill="#ff0000" ><tspan font-style='italic'>T</tspan><tspan dx='2.4'>= 40 K,</tspan></text>
<text x="101.60" y="516.10" font-size="17.9" text-anchor="start" class="serif" fill="#ff0000" ><tspan font-size='14.8'>Δ</tspan><tspan dx='-0.4'> =29meV.</tspan></text>
<text x="317.00" y="439.50" font-size="18.7" text-anchor="start" class="serif" fill="#000" ><tspan font-style='italic'>A</tspan>~3x7μm<tspan font-size='12' dy='-10'>2</tspan><tspan dy='10'>,</tspan></text>
<text x="317.00" y="463.30" font-size="18.7" text-anchor="start" class="serif" fill="#000" ><tspan font-style='italic'>N</tspan> =9.</text>
<text x="171.30" y="390.30" font-size="21.5" text-anchor="middle" class="serif" fill="#000" ><tspan font-weight='bold' font-style='italic'>V</tspan> (mV)</text>
<text x="386.30" y="391.30" font-size="21.5" text-anchor="middle" class="serif" fill="#000" ><tspan font-weight='bold' font-style='italic'>V</tspan> (V)</text>
<text x="177.50" y="570.60" font-size="21.5" text-anchor="middle" class="serif" fill="#000" ><tspan font-style='italic'>e</tspan><tspan font-weight='bold' font-style='italic'>V/</tspan><tspan font-size='19.8'>Δ</tspan>(<tspan font-style='italic'>T</tspan>)</text>
<text x="388.10" y="572.20" font-size="21.5" text-anchor="middle" class="serif" fill="#000" ><tspan font-style='italic'>e</tspan><tspan font-weight='bold' font-style='italic'>V / N</tspan><tspan font-size='19.8'>Δ</tspan>(<tspan font-style='italic'>T</tspan>)</text>
<text transform="translate(65,295.6) rotate(-90)" font-size="22" text-anchor="middle" class="serif"><tspan font-weight='bold' font-style='italic' dx='0'>I</tspan><tspan font-weight='bold' font-style='italic' dx='4.3'>R</tspan><tspan font-size='12.5' dy='9'>n</tspan><tspan dy='-9' font-size='21.4'> (mV)</tspan></text>
<text transform="translate(278,284.8) rotate(-90)" font-size="22" text-anchor="middle" class="serif"><tspan font-weight='bold' font-style='italic'>I</tspan> (mA)</text>
<text transform="translate(66,478.2) rotate(-90)" font-size="22" text-anchor="middle" class="serif"><tspan font-style='italic'>e</tspan><tspan font-weight='bold' font-style='italic' dx='4'>I</tspan><tspan font-weight='bold' font-style='italic' dx='4.3'>R</tspan><tspan font-size='12.5' dy='9'>n</tspan><tspan dy='-9' dx='3'>/</tspan><tspan dx='5' font-size='20.3'>Δ</tspan></text>
<text transform="translate(281,470.4) rotate(-90)" font-size="22" text-anchor="middle" class="serif"><tspan font-style='italic'>e</tspan><tspan font-weight='bold' font-style='italic' dx='3.2'>I</tspan><tspan font-weight='bold' font-style='italic' dx='4.3'>R</tspan><tspan font-size='12.5' dy='9'>n</tspan><tspan dy='-9' dx='3'>/</tspan><tspan font-weight='bold' font-style='italic' dx='5.5'>N</tspan><tspan dx='4.5' font-size='20.3'>Δ</tspan></text>

</svg>
</body></html>
